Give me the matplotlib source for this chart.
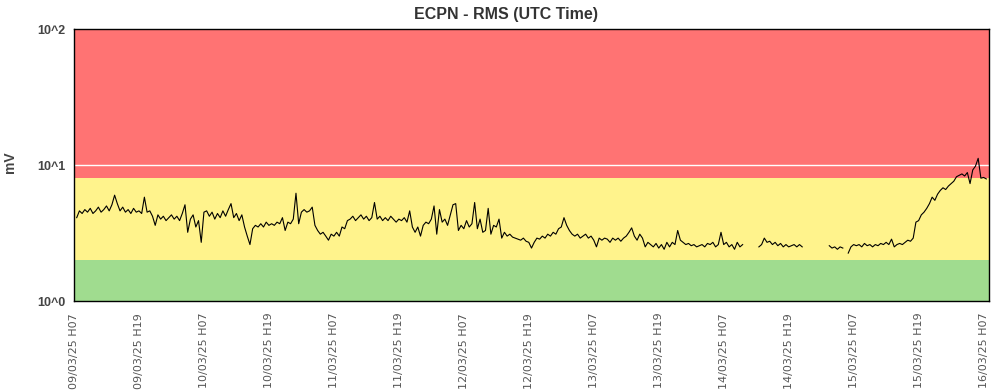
import matplotlib
matplotlib.use("Agg")
import matplotlib.pyplot as plt
import matplotlib.dates as mdates
import numpy as np
import pandas as pd

nan = np.nan

# RMS readings (mV), one every 30 minutes from 09/03/25 07:00 UTC
start = "2025-03-09 07:00"
end = "2025-03-16 08:00"
step = "30min"
rms = [nan,
    # 09/03 H07 - H19
    4.1, 4.6, 4.4, 4.7, 4.5, 4.8, 4.4, 4.6, 4.9, 4.5, 4.7, 5.0, 4.6, 5.1, 6.0, 5.2, 4.6, 4.9, 4.5, 4.7, 4.4, 4.8, 4.5, 4.6,
    # 09/03 H19 - 10/03 H07
    4.4, 5.8, 4.5, 4.6, 4.2, 3.6, 4.3, 4.0, 4.2, 3.9, 4.1, 4.3, 4.0, 4.2, 3.9, 4.4, 5.1, 3.2, 4.0, 4.3, 3.5, 3.9, 2.7, 4.5,
    # 10/03 H07 - H19
    4.6, 4.2, 4.5, 4.0, 4.4, 4.1, 4.6, 4.2, 4.7, 5.2, 4.1, 4.4, 3.9, 4.3, 3.5, 3.0, 2.6, 3.4, 3.6, 3.5, 3.7, 3.5, 3.8, 3.6,
    # 10/03 H19 - 11/03 H07
    3.7, 3.6, 3.8, 3.7, 4.1, 3.3, 3.8, 3.7, 4.0, 6.2, 3.7, 4.5, 4.7, 4.5, 4.6, 4.9, 3.6, 3.3, 3.1, 3.2, 3.0, 2.8, 3.1, 3.0,
    # 11/03 H07 - H19
    3.2, 3.0, 3.5, 3.4, 3.9, 4.0, 4.2, 3.9, 4.1, 4.3, 4.0, 4.2, 3.9, 4.1, 5.3, 4.0, 4.2, 3.9, 4.1, 3.9, 4.2, 4.0, 3.8, 4.0,
    # 11/03 H19 - 12/03 H07
    3.9, 4.1, 3.8, 4.6, 3.5, 3.2, 3.5, 3.0, 3.6, 3.8, 3.7, 4.0, 5.0, 3.1, 4.7, 3.8, 4.0, 3.6, 4.3, 5.1, 5.2, 3.3, 3.6, 3.4,
    # 12/03 H07 - H19
    3.9, 3.5, 3.7, 5.3, 3.4, 4.0, 3.2, 3.3, 4.8, 3.1, 3.6, 3.5, 4.0, 2.9, 3.2, 3.0, 3.1, 2.95, 2.9, 2.85, 2.8, 2.9, 2.75, 2.7,
    # 12/03 H19 - 13/03 H07
    2.45, 2.7, 2.9, 2.85, 3.0, 2.9, 3.1, 3.0, 3.2, 3.1, 3.4, 3.5, 4.1, 3.6, 3.3, 3.1, 3.0, 3.1, 2.9, 3.0, 3.1, 2.9, 3.0, 2.8,
    # 13/03 H07 - H19
    2.5, 2.9, 2.8, 2.9, 2.85, 2.7, 2.9, 2.8, 2.9, 2.75, 2.9, 3.0, 3.2, 3.45, 3.0, 2.8, 3.1, 2.9, 2.5, 2.7, 2.6, 2.5, 2.65, 2.45,
    # 13/03 H19 - 14/03 H07
    2.6, 2.4, 2.7, 2.5, 2.7, 2.6, 3.3, 2.8, 2.7, 2.6, 2.65, 2.55, 2.6, 2.5, 2.55, 2.6, 2.5, 2.65, 2.6, 2.7, 2.5, 2.6, 3.2, 2.6,
    # 14/03 H07 - H19
    2.7, 2.5, 2.6, 2.4, 2.7, 2.5, 2.6, nan, nan, nan, nan, nan, 2.5, 2.6, 2.9, 2.7, 2.75, 2.6, 2.7, 2.55, 2.65, 2.5, 2.6, 2.5,
    # 14/03 H19 - 15/03 H07
    2.55, 2.6, 2.5, 2.6, 2.5, nan, nan, nan, nan, nan, nan, nan, nan, nan, 2.55, 2.45, 2.5, 2.4, 2.5, 2.45, nan, 2.25, 2.5, 2.6,
    # 15/03 H07 - H19
    2.55, 2.6, 2.5, 2.65, 2.55, 2.6, 2.5, 2.6, 2.55, 2.65, 2.6, 2.7, 2.6, 2.85, 2.5, 2.6, 2.65, 2.6, 2.7, 2.8, 2.75, 2.9, 3.8, 3.9,
    # 15/03 H19 - 16/03 H07
    4.3, 4.5, 4.8, 5.2, 5.8, 5.5, 6.1, 6.5, 6.8, 6.6, 7.0, 7.3, 7.6, 8.2, 8.4, 8.6, 8.3, 8.8, 7.3, 9.2, 9.8, 11.2, 8.0, 8.1,
    7.9,
]

# alarm bands (mV)
band_edges = [1, 2, 8, 100]
band_colors = ["#a0dc8f", "#fff38c", "#ff7373"]

times = pd.date_range(start, periods=len(rms), freq=step)

fig = plt.figure(figsize=(9.92, 3.9), dpi=100)
ax = fig.add_axes([74 / 992, 1 - 301 / 390, 915 / 992, 272 / 390])

for lo, hi, c in zip(band_edges[:-1], band_edges[1:], band_colors):
    ax.axhspan(lo, hi, color=c, lw=0, zorder=0)

ax.set_yscale("log")
ax.set_ylim(1, 100)
ax.set_xlim(pd.Timestamp(start), pd.Timestamp(end))
ax.axhline(10, color="white", lw=1, zorder=1)

ax.plot(times, rms, color="black", lw=0.8, zorder=2)

ax.set_yticks([1, 10, 100])
ax.set_yticklabels(["10^0", "10^1", "10^2"], fontsize=9, fontweight="bold",
                   color="#444444", family="Liberation Sans")
ax.yaxis.set_minor_locator(matplotlib.ticker.NullLocator())

ax.xaxis.set_major_locator(mdates.HourLocator(byhour=[7, 19]))
ax.xaxis.set_major_formatter(mdates.DateFormatter("%d/%m/%y H%H"))
for lab in ax.get_xticklabels():
    lab.set_rotation(90)
    lab.set_fontsize(8)
    lab.set_color("#555555")
ax.tick_params(axis="x", length=0, pad=8.5)
ax.tick_params(axis="y", length=0, pad=6)

for s in ax.spines.values():
    s.set_linewidth(1)
    s.set_color("black")

fig.text(506 / 992, 1 - 14 / 390, "ECPN - RMS (UTC Time)", ha="center", va="center",
         fontsize=11.5, fontweight="bold", color="#333333", family="Liberation Sans")
fig.text(10 / 992, 1 - 162 / 390, "mV", rotation=90, ha="center", va="center",
         fontsize=10, fontweight="bold", color="#444444", family="Liberation Sans")

fig.savefig("out.png", dpi=100)
